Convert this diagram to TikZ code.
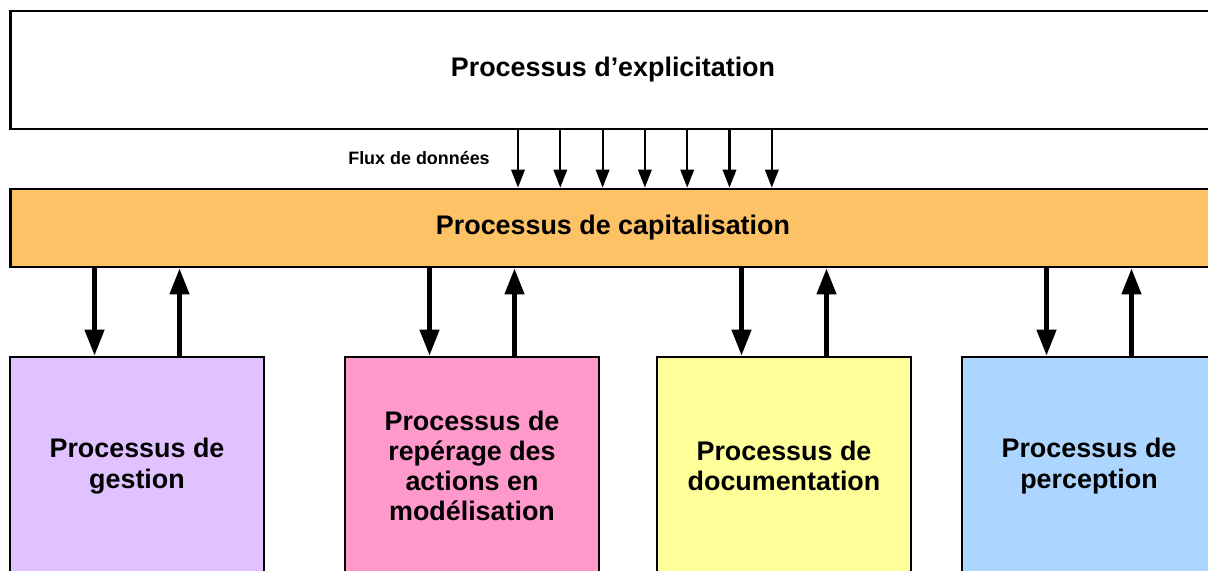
\documentclass[tikz,border=0pt]{standalone}
\usepackage{fontspec}
\setmainfont{Liberation Sans}
\usetikzlibrary{arrows.meta}
\definecolor{capi-orange}{HTML}{FDC166}
\definecolor{gest-purple}{HTML}{DFC2FF}
\definecolor{rep-pink}{HTML}{FF99CC}
\definecolor{doc-yellow}{HTML}{FFFF99}
\definecolor{perc-blue}{HTML}{ACD6FF}

\begin{document}
\begin{tikzpicture}[x=0.02cm, y=-0.02cm,
        every node/.style={font=\fontsize{15.3}{17.2}\selectfont\bfseries},
        bande/.style={draw=black, line width=1.6pt, minimum width=24.12cm,
            minimum height=#1, inner sep=0pt},
        proc/.style={draw=black, line width=1.6pt, fill=#1, minimum width=5.08cm,
            minimum height=4.36cm, align=center, inner sep=0pt},
        fluxarrow/.style={line width=1.2pt, -{Triangle[width=0.27cm,length=0.36cm]}},
        bigarrow/.style={line width=2.6pt, -{Triangle[width=0.38cm,length=0.52cm]}}]
      \useasboundingbox (0,0) rectangle (1208,571);
      \clip (0,0) rectangle (1208,571);
      \node[bande=2.36cm, fill=white] (expl) at (613,70) {Processus d’explicitation};
      \node[bande=1.56cm, fill=capi-orange] (capi) at (613,228) {Processus de capitalisation};
      \node[proc=gest-purple] (gestion) at (137,466) {Processus de\\gestion};
      \node[proc=rep-pink] (reperage) at (472,466) {Processus de\\repérage des\\actions en\\modélisation};
      \node[proc=doc-yellow] (docu) at (784,466) {Processus de\\documentation};
      \node[proc=perc-blue] (percep) at (1089,466) {Processus de\\perception};
      % flux entre les deux bandes
      \foreach \i in {0,...,6}
        \draw[fluxarrow] ({518+42.3*\i},0 |- expl.south) -- ({518+42.3*\i},0 |- capi.north);
      \node[font=\fontsize{10.2}{12}\selectfont\bfseries] (flux) at (419,158) {Flux de données};
      % echanges avec la capitalisation
      \foreach \b in {gestion,reperage,docu,percep} {
        \draw[bigarrow] ([xshift=-0.85cm]\b.north |- capi.south) -- ([xshift=-0.85cm]\b.north);
        \draw[bigarrow] ([xshift=0.85cm]\b.north) -- ([xshift=0.85cm]\b.north |- capi.south);
      }
    \end{tikzpicture}
\end{document}
